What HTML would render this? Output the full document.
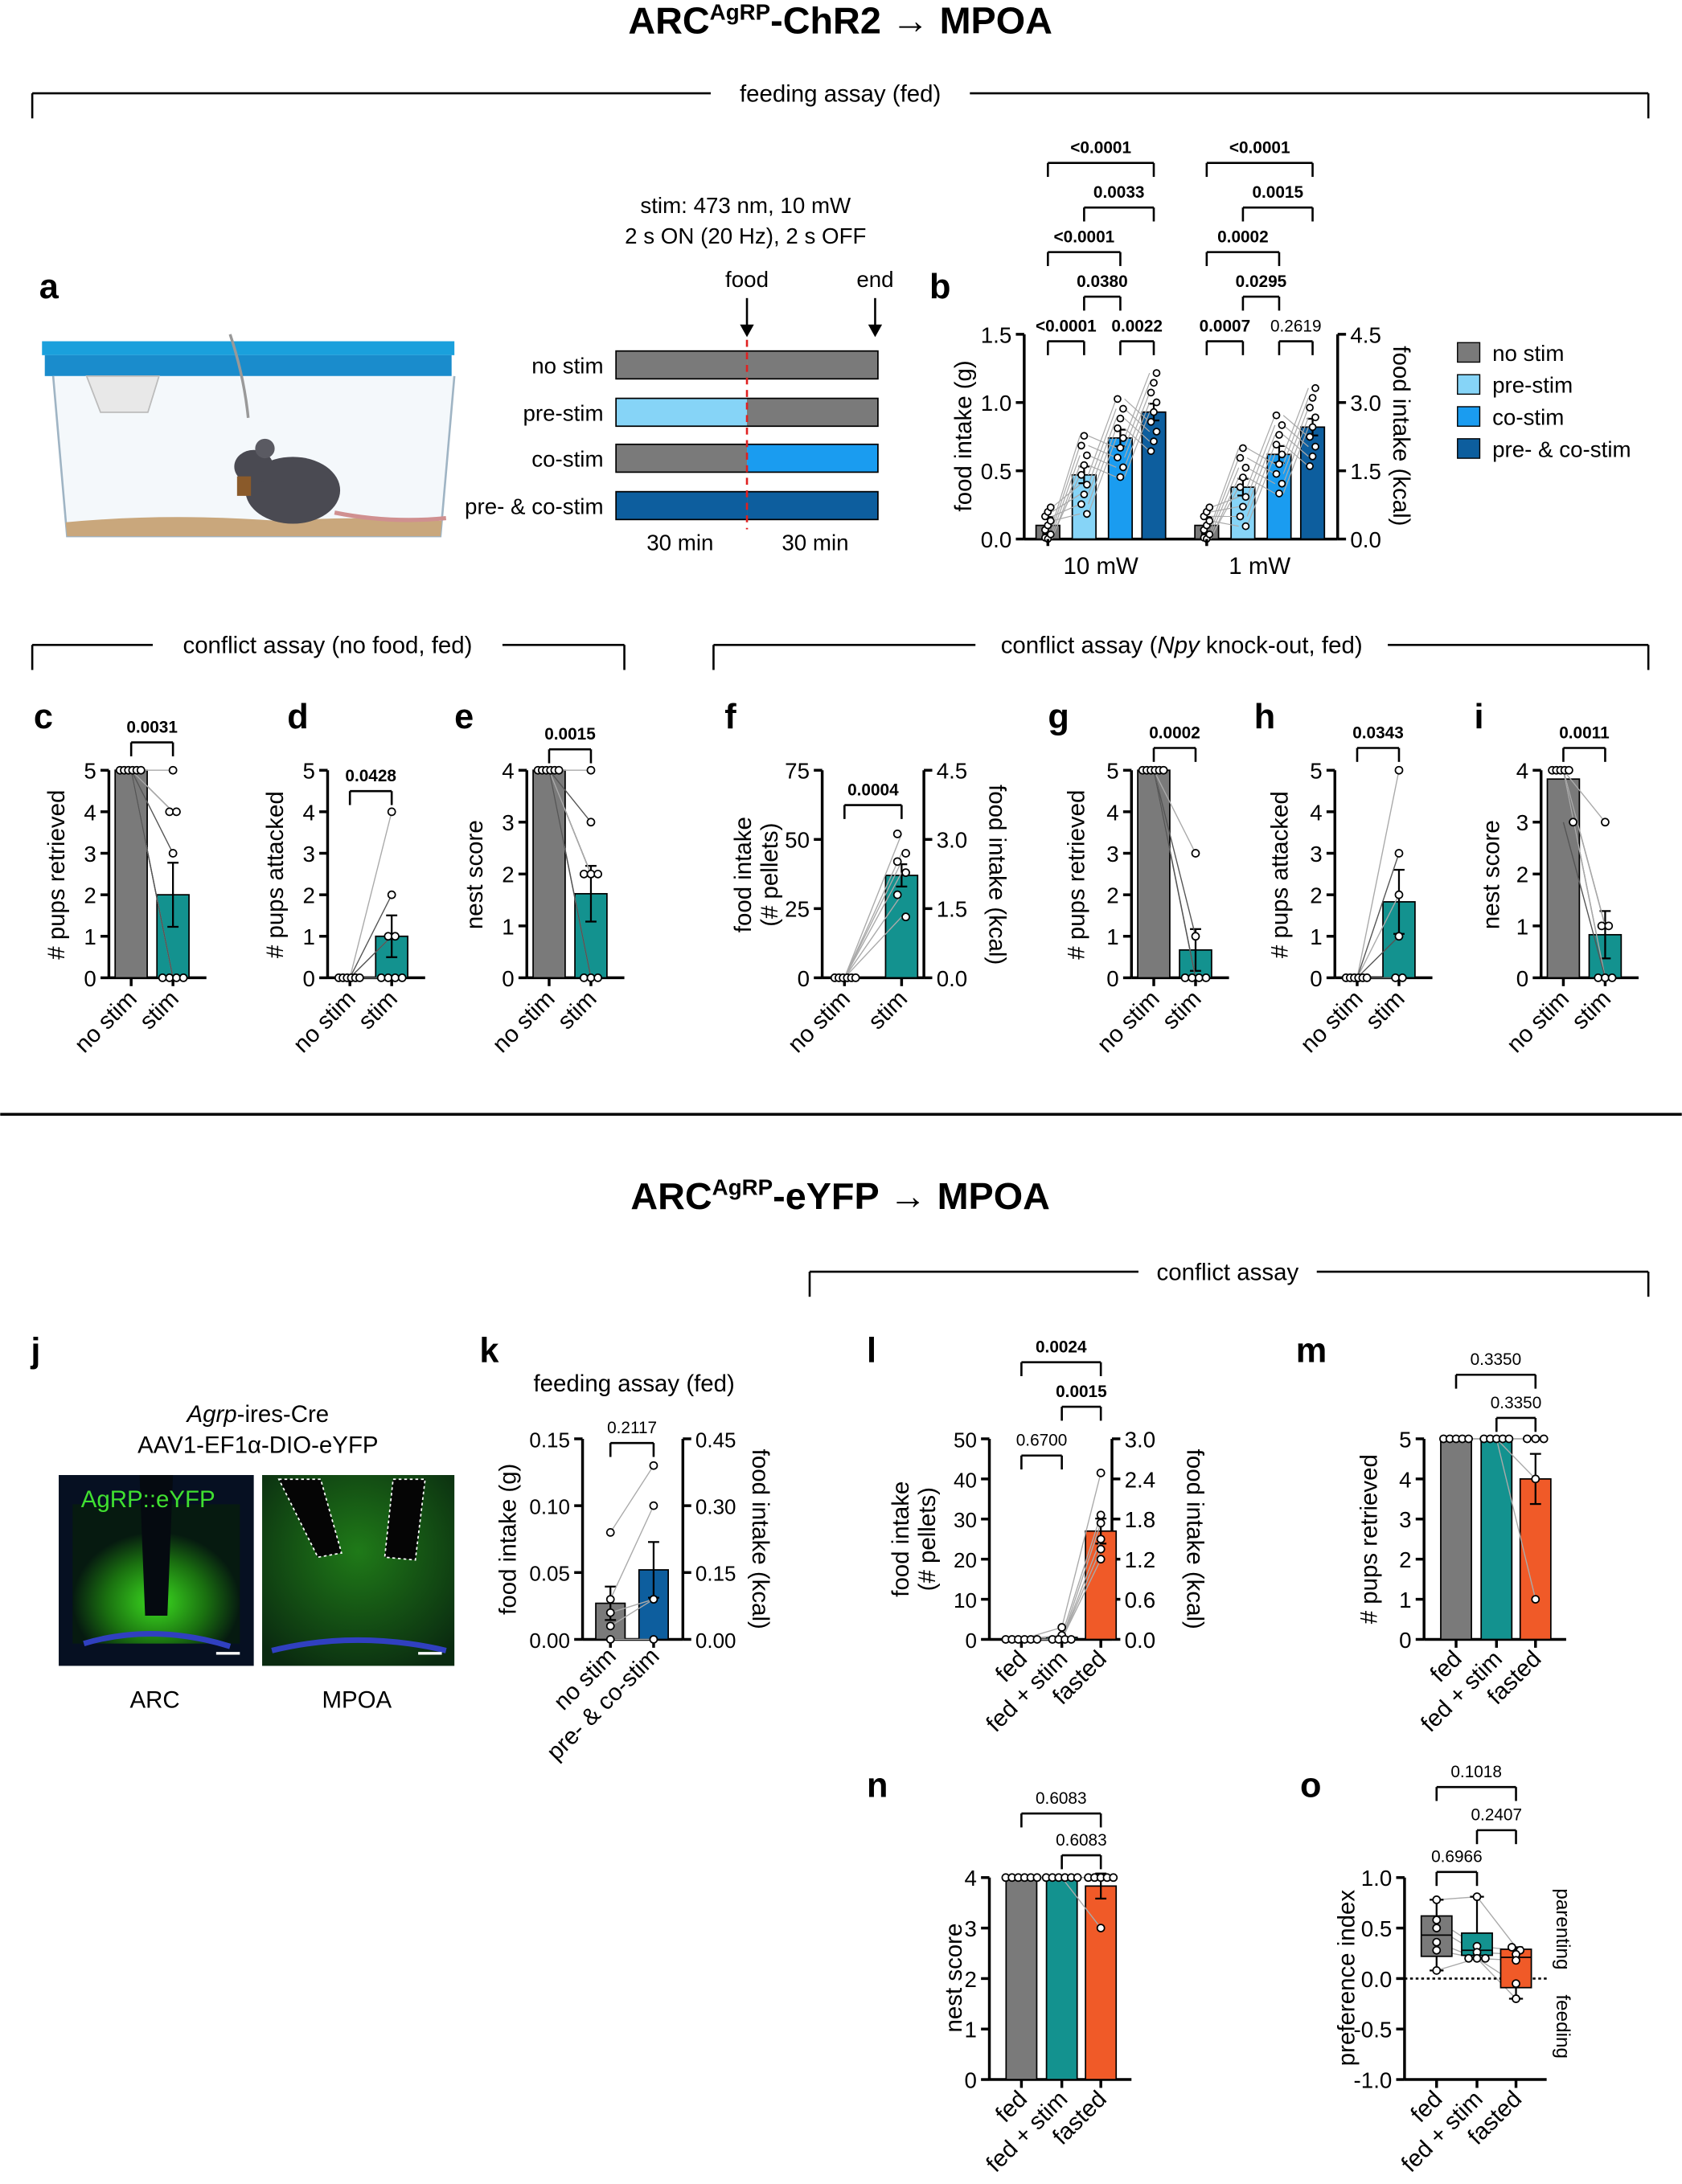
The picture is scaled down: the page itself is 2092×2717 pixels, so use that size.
<!DOCTYPE html>
<html><head><meta charset="utf-8">
<style>
html,body{margin:0;padding:0;background:#fff;}
svg{display:block;}
text{font-family:"Liberation Sans",Arial,sans-serif;fill:#000;}
</style></head>
<body>
<svg id="s" xmlns="http://www.w3.org/2000/svg" width="2092" height="2717" viewBox="0 0 1207 1568"></svg>
<script>
var S=document.getElementById('s');var out=[];
function T(x,y,s,sz,anc,ext){out.push('<text x="'+x+'" y="'+y+'" font-size="'+(sz||14)+'" text-anchor="'+(anc||'middle')+'" '+(ext||'')+'>'+s+'</text>');}
function L(x1,y1,x2,y2,w,c,ext){out.push('<line x1="'+x1+'" y1="'+y1+'" x2="'+x2+'" y2="'+y2+'" stroke="'+(c||'#000')+'" stroke-width="'+(w||1.5)+'" '+(ext||'')+'/>');}
function R(x,y,w,h,f,ext){out.push('<rect x="'+x+'" y="'+y+'" width="'+w+'" height="'+h+'" fill="'+f+'" '+(ext||'')+'/>');}
function C(x,y,r){out.push('<circle cx="'+x+'" cy="'+y+'" r="'+(r||2.6)+'" fill="#fff" stroke="#000" stroke-width="1"/>');}
function RT(x,y,s,sz,ang,anc,ext){out.push('<text transform="translate('+x+','+y+') rotate('+ang+')" font-size="'+sz+'" text-anchor="'+(anc||'middle')+'" '+(ext||'')+'>'+s+'</text>');}
function BR(x1,x2,y,lab,bold,sz){L(x1,y+10,x1,y);L(x1,y,x2,y);L(x2,y,x2,y+10);T((x1+x2)/2,y-7,lab,sz||12,'middle',bold?'font-weight="bold"':'');}
function SEC(x1,x2,y,lab,tx,tw){L(x1,y,tx-tw/2-8,y,1.5);L(tx+tw/2+8,y,x2,y,1.5);L(x1,y,x1,y+18,1.5);L(x2,y,x2,y+18,1.5);out.push('<text x="'+tx+'" y="'+(y+6)+'" font-size="17" text-anchor="middle">'+lab+'</text>');}
function AX(x,yt,yb,labs,side,sz){L(x,yt,x,yb,2);var n=labs.length-1;for(var i=0;i<=n;i++){var y=yb-(yb-yt)*i/n;if(side=='r'){L(x,y,x+6,y,2);T(x+9,y+6,labs[i],sz||16,'start');}else{L(x-6,y,x,y,2);T(x-9,y+6,labs[i],sz||16,'end');}}}
function BAR(cx,w,yb,yv,c){R(cx-w/2,yv,w,yb-yv,c,'stroke="#000" stroke-width="1"');}
function ERR(cx,y1,y2){L(cx,y1,cx,y2,1.3);L(cx-4,y1,cx+4,y1,1.3);L(cx-4,y2,cx+4,y2,1.3);}
function XL(x,y,s,sz){RT(x,y,s,sz||17,-45,'end');}

out.push('<text x="603" y="24" font-size="27" font-weight="bold" text-anchor="middle">ARC<tspan font-size="16" dy="-10">AgRP</tspan><tspan dy="10">-ChR2 → MPOA</tspan></text>');
SEC(23,1183,67,'feeding assay (fed)',603,170);

T(28,214,'a',25,'start','font-weight="bold"');
R(30,245,296,10,'#1aa0dc');R(32,255,292,15,'#1a8ccc');
out.push('<path d="M38 270 L48 385 L316 385 L326 270" fill="#f4f8fb" stroke="#9fb4c4" stroke-width="1.5"/>');
out.push('<path d="M62 270 L72 296 L106 296 L114 270Z" fill="#e8e8e8" stroke="#bbb"/>');
out.push('<path d="M47 375 Q120 368 200 374 Q260 370 317 374 L316 385 L48 385Z" fill="#c9a77c"/>');
out.push('<path d="M165 240 Q175 270 178 300" fill="none" stroke="#999" stroke-width="2"/>');
out.push('<ellipse cx="210" cy="352" rx="34" ry="24" fill="#4a4a52"/><ellipse cx="182" cy="335" rx="14" ry="12" fill="#4a4a52"/><circle cx="190" cy="322" r="7" fill="#5a5a62"/><rect x="170" y="342" width="10" height="14" fill="#8a5a2a"/>');
out.push('<path d="M240 368 Q280 376 320 372" fill="none" stroke="#d09090" stroke-width="3"/>');
T(535,153,'stim: 473 nm, 10 mW',16);T(535,175,'2 s ON (20 Hz), 2 s OFF',16);
T(536,206,'food',16);T(628,206,'end',16);
L(536,214,536,236,1.5);out.push('<path d="M531 233 L536 242 L541 233Z"/>');
L(628,214,628,236,1.5);out.push('<path d="M623 233 L628 242 L633 233Z"/>');
var rows=[['no stim',262,'#7a7a7a','#7a7a7a'],['pre-stim',296,'#86d4f7','#7a7a7a'],['co-stim',329,'#7a7a7a','#1a9cf0'],['pre- &amp; co-stim',363,'#0d5e9e','#0d5e9e']];
rows.forEach(function(r){T(433,r[1]+6,r[0],16,'end');R(442,r[1]-10,94,20,r[2]);R(536,r[1]-10,94,20,r[3]);R(442,r[1]-10,188,20,'none','stroke="#000" stroke-width="1"');});
L(536,244,536,380,1.5,'#e02020','stroke-dasharray="5,4"');
T(488,395,'30 min',16);T(585,395,'30 min',16);

T(667,214,'b',25,'start','font-weight="bold"');
AX(735,240,387,['0.0','0.5','1.0','1.5'],'l');AX(960,240,387,['0.0','1.5','3.0','4.5'],'r');
L(735,387,960,387,2);
RT(697,313,'food intake (g)',17,-90);RT(1000,313,'food intake (kcal)',17,90);
var bc=['#7a7a7a','#86d4f7','#1a9cf0','#0d5e9e'];
var bx=[[752,778,804,828],[866,892,918,942]];var bv=[[0.10,0.47,0.74,0.93],[0.10,0.38,0.62,0.82]];
for(var g=0;g<2;g++){for(var i=0;i<4;i++){var cx=bx[g][i],yv=387-bv[g][i]*98;BAR(cx,17,387,yv,bc[i]);ERR(cx,yv-6,yv+6);}
 for(var k=0;k<9;k++){var vv=[];for(var i=0;i<4;i++){var v=bv[g][i]+(((k*37+i*13)%9)-4)*0.055*(i?1.3:0.6);if(v<0)v=0.01;vv.push(v);}
  for(var i=0;i<3;i++)L(bx[g][i]+3,387-vv[i]*98,bx[g][i+1]-3,387-vv[i+1]*98,0.7,'#aaa');
  for(var i=0;i<4;i++)C(bx[g][i]+((k%3)-1)*2,387-vv[i]*98,2.3);}
 L(bx[g][0],387,bx[g][0],392,2);}
T(790,412,'10 mW',17);T(904,412,'1 mW',17);
BR(752,778,245,'&lt;0.0001',1);BR(804,828,245,'0.0022',1);BR(866,892,245,'0.0007',1);BR(918,942,245,'0.2619',0);
BR(778,804,213,'0.0380',1);BR(892,918,213,'0.0295',1);
BR(752,804,181,'&lt;0.0001',1);BR(866,918,181,'0.0002',1);
BR(778,828,149,'0.0033',1);BR(892,942,149,'0.0015',1);
BR(752,828,117,'&lt;0.0001',1);BR(866,942,117,'&lt;0.0001',1);
var lg=['no stim','pre-stim','co-stim','pre- &amp; co-stim'];
for(var i=0;i<4;i++){R(1046,246+i*23,16,14,bc[i],'stroke="#000" stroke-width="0.8"');T(1071,259+i*23,lg[i],16,'start');}

SEC(23,448,463,'conflict assay (no food, fed)',235,235);
L(512,463,700,463,1.5);L(996,463,1183,463,1.5);L(512,463,512,481,1.5);L(1183,463,1183,481,1.5);
out.push('<text x="848" y="469" font-size="17" text-anchor="middle">conflict assay (<tspan font-style="italic">Npy</tspan> knock-out, fed)</text>');

var TEAL='#13928f',GRAY='#7a7a7a';
function panel(o){
 var yt=553,yb=702,ax=o.ax;
 T(o.lx,523,o.l,25,'start','font-weight="bold"');
 var labs=[];for(var i=0;i<=o.n;i++)labs.push(String(i));
 AX(ax,yt,yb,labs,'l',16);
 var c1=ax+16,c2=ax+46;L(ax,yb,ax+70,yb,2);L(c1,yb,c1,yb+6,2);L(c2,yb,c2,yb+6,2);
 var y1=yb-(yb-yt)*o.v1/o.max,y2=yb-(yb-yt)*o.v2/o.max;
 BAR(c1,23,yb,y1,GRAY);BAR(c2,23,yb,y2,TEAL);
 if(o.e)ERR(c2,y2-o.e,y2+o.e);
 o.p2.forEach(function(v,i){var yy1=yb-(yb-yt)*o.p1[i%o.p1.length]/o.max,yy2=yb-(yb-yt)*v/o.max;L(c1,yy1,c2,yy2,0.8,i%2?'#555':'#aaa');});
 o.p1.forEach(function(v,i){C(c1-8+i*3,yb-(yb-yt)*v/o.max);});
 o.p2.forEach(function(v,i){var same=o.p2.filter(function(w){return w==v;}).length;var idx=o.p2.slice(0,i).filter(function(w){return w==v;}).length;C(c2+(idx-(same-1)/2)*5,yb-(yb-yt)*v/o.max);});
 BR(c1,c2,o.by,o.pv,1);
 RT(o.yl,628,o.ylab,17,-90);
 XL(c1+5,718,'no stim');XL(c2+5,718,'stim');
}
panel({l:'c',lx:24,ax:78,n:5,max:5,v1:5,v2:2,e:23,p1:[5,5,5,5,5,5],p2:[5,4,4,3,0,0,0,0],by:533,pv:'0.0031',yl:46,ylab:'# pups retrieved'});
panel({l:'d',lx:206,ax:235,n:5,max:5,v1:0,v2:1,e:15,p1:[0,0,0,0,0,0],p2:[4,2,1,1,0,0,0,0],by:568,pv:'0.0428',yl:203,ylab:'# pups attacked'});
panel({l:'e',lx:326,ax:378,n:4,max:4,v1:4,v2:1.62,e:20,p1:[4,4,4,4,4,4],p2:[4,3,2,2,2,0,0,0],by:538,pv:'0.0015',yl:346,ylab:'nest score'});
(function(){var yt=553,yb=702,ax=590;T(520,523,'f',25,'start','font-weight="bold"');
 AX(ax,yt,yb,['0','25','50','75'],'l',16);AX(ax+73,yt,yb,['0.0','1.5','3.0','4.5'],'r',16);
 L(ax,yb,ax+73,yb,2);var c1=606,c2=647;L(c1,yb,c1,yb+6,2);L(c2,yb,c2,yb+6,2);
 var y2=yb-149*37/75;BAR(c2,23,yb,y2,TEAL);ERR(c2,y2-8,y2+8);
 [52,45,42,38,30,22].forEach(function(v,i){L(c1,yb,c2,yb-149*v/75,0.8,'#aaa');});
 for(var i=0;i<6;i++)C(c1-7+i*3,yb);
 [52,45,42,38,30,22].forEach(function(v,i){C(c2+(i%2?3:-3),yb-149*v/75);});
 BR(c1,c2,578,'0.0004',1);
 RT(539,628,'food intake',17,-90);RT(558,628,'(# pellets)',17,-90);RT(710,628,'food intake (kcal)',17,90);
 XL(c1+5,718,'no stim');XL(c2+5,718,'stim');})();
panel({l:'g',lx:752,ax:812,n:5,max:5,v1:5,v2:0.67,e:15,p1:[5,5,5,5,5,5],p2:[3,1,0,0,0,0],by:537,pv:'0.0002',yl:778,ylab:'# pups retrieved'});
panel({l:'h',lx:900,ax:958,n:5,max:5,v1:0,v2:1.83,e:23,p1:[0,0,0,0,0,0],p2:[5,3,2,1,0,0],by:537,pv:'0.0343',yl:924,ylab:'# pups attacked'});
panel({l:'i',lx:1058,ax:1106,n:4,max:4,v1:3.83,v2:0.83,e:17,p1:[4,4,4,4,4,3],p2:[3,1,1,0,0,0],by:537,pv:'0.0011',yl:1076,ylab:'nest score'});

L(0,800,1207,800,2);

out.push('<text x="603" y="868" font-size="27" font-weight="bold" text-anchor="middle">ARC<tspan font-size="16" dy="-10">AgRP</tspan><tspan dy="10">-eYFP → MPOA</tspan></text>');
SEC(581,1183,913,'conflict assay',881,112);

T(22,978,'j',25,'start','font-weight="bold"');
out.push('<text x="185" y="1021" font-size="17" text-anchor="middle"><tspan font-style="italic">Agrp</tspan>-ires-Cre</text>');
T(185,1043,'AAV1-EF1α-DIO-eYFP',17);
out.push('<defs><radialGradient id="g1" cx="0.5" cy="0.7" r="0.5"><stop offset="0" stop-color="#3cdc20"/><stop offset="0.6" stop-color="#1a7010"/><stop offset="1" stop-color="#061a10"/></radialGradient><radialGradient id="g2" cx="0.5" cy="0.4" r="0.7"><stop offset="0" stop-color="#1f7a18"/><stop offset="1" stop-color="#0a2a10"/></radialGradient></defs>');
R(42,1059,140,137,'#061022');R(52,1080,120,100,'url(#g1)');
out.push('<path d="M100 1059 L104 1160 L120 1160 L124 1059Z" fill="#050a10"/>');
out.push('<path d="M60 1180 Q110 1165 165 1182" stroke="#3040c0" stroke-width="4" fill="none"/>');
R(188,1059,138,137,'url(#g2)');
out.push('<path d="M200 1062 L230 1062 L245 1115 L228 1118Z" fill="#050505" stroke="#fff" stroke-dasharray="2,2"/><path d="M282 1062 L305 1062 L298 1120 L276 1118Z" fill="#050505" stroke="#fff" stroke-dasharray="2,2"/>');
out.push('<path d="M195 1185 Q256 1170 320 1185" stroke="#3040c0" stroke-width="4" fill="none"/>');
T(58,1082,'AgRP::eYFP',17,'start','style="fill:#40e030"');
L(155,1187,172,1187,2,'#fff');L(300,1187,317,1187,2,'#fff');
T(111,1226,'ARC',17);T(256,1226,'MPOA',17);

T(344,978,'k',25,'start','font-weight="bold"');T(455,999,'feeding assay (fed)',17);
AX(418,1033,1177,['0.00','0.05','0.10','0.15'],'l',15);AX(490,1033,1177,['0.00','0.15','0.30','0.45'],'r',15);
L(418,1177,490,1177,2);
(function(){var c1=438,c2=469,yb=1177,s=144/0.15;L(c1,yb,c1,yb+6,2);L(c2,yb,c2,yb+6,2);
 var y1=yb-0.027*s,y2=yb-0.052*s;BAR(c1,21,yb,y1,GRAY);BAR(c2,21,yb,y2,'#0d5e9e');ERR(c1,y1-12,y1+12);ERR(c2,y2-20,y2+20);
 var a=[0.08,0.03,0.02,0.01,0.0],b=[0.13,0.1,0.03,0.03,0.0];a.forEach(function(v,i){L(c1,yb-v*s,c2,yb-b[i]*s,0.8,'#aaa');C(c1,yb-v*s);C(c2,yb-b[i]*s);});
 BR(c1,c2,1036,'0.2117',0);XL(c1+5,1190,'no stim');XL(c2+5,1190,'pre- &amp; co-stim');
 RT(370,1105,'food intake (g)',17,-90);RT(540,1105,'food intake (kcal)',17,90);})();

var OR='#f05a28';
function tri(o){
 var yt=o.yt,yb=o.yb,ax=o.ax;T(o.lx,o.ly,o.l,25,'start','font-weight="bold"');
 AX(ax,yt,yb,o.tl,'l',o.ts||16);if(o.tr)AX(o.rx,yt,yb,o.tr,'r',16);
 var cs=[ax+23,ax+52,ax+80];L(ax,yb,o.rx||ax+102,yb,2);cs.forEach(function(c){L(c,yb,c,yb+6,2);});
 var cols=[GRAY,TEAL,OR];
 if(!o.box){o.v.forEach(function(v,i){var y=yb-(yb-yt)*v;BAR(cs[i],22,yb,y,cols[i]);if(o.e[i])ERR(cs[i],y-o.e[i],y+o.e[i]);});}
 o.pts.forEach(function(p,i){p.forEach(function(v,k){var y=yb-(yb-yt)*v;if(i<2&&o.pts[i+1][k]!==undefined){var y2=yb-(yb-yt)*o.pts[i+1][k];L(cs[i],y,cs[i+1],y2,0.8,'#aaa');}});});
 if(o.box)o.box(cs,cols);
 o.pts.forEach(function(p,i){p.forEach(function(v,k){var same=p.filter(function(w){return Math.abs(w-v)<0.02;}).length;var idx=p.slice(0,k).filter(function(w){return Math.abs(w-v)<0.02;}).length;C(cs[i]+(idx-(same-1)/2)*(same>3?4.5:6),yb-(yb-yt)*v);});});
 o.br.forEach(function(b){BR(cs[b[0]],cs[b[1]],b[2],b[3],b[4]);});
 XL(cs[0]+5,yb+15,'fed');XL(cs[1]+5,yb+15,'fed + stim');XL(cs[2]+5,yb+15,'fasted');
 return cs;}
tri({l:'l',lx:622,ly:978,ax:710,rx:798,yt:1033,yb:1177,ts:15,tl:['0','10','20','30','40','50'],tr:['0.0','0.6','1.2','1.8','2.4','3.0'],v:[0.005,0.01,0.54],e:[0,0,9],
 pts:[[0,0,0,0,0,0],[0.06,0.02,0,0,0,0],[0.83,0.62,0.58,0.5,0.45,0.4]],br:[[0,1,1045,'0.6700',0],[1,2,1010,'0.0015',1],[0,2,978,'0.0024',1]]});
RT(652,1105,'food intake',17,-90);RT(671,1105,'(# pellets)',17,-90);RT(852,1105,'food intake (kcal)',17,90);
tri({l:'m',lx:930,ly:978,ax:1022,rx:1124,yt:1033,yb:1177,tl:['0','1','2','3','4','5'],v:[1,1,0.8],e:[0,0,18],
 pts:[[1,1,1,1,1],[1,1,1,1,1],[1,1,1,0.8,0.2]],br:[[0,2,987,'0.3350',0],[1,2,1018,'0.3350',0]]});
RT(988,1105,'# pups retrieved',17,-90);
tri({l:'n',lx:622,ly:1290,ax:710,rx:812,yt:1348,yb:1493,tl:['0','1','2','3','4'],v:[1,1,0.958],e:[0,0,9],
 pts:[[1,1,1,1,1,1],[1,1,1,1,1,1],[1,1,1,1,1,0.75]],br:[[0,2,1302,'0.6083',0],[1,2,1332,'0.6083',0]]});
RT(690,1420,'nest score',17,-90);
tri({l:'o',lx:933,ly:1290,ax:1008,rx:1110,yt:1348,yb:1493,tl:['-1.0','-0.5','0.0','0.5','1.0'],v:[0,0,0],e:[0,0,0],
 pts:[[0.89,0.79,0.75,0.68,0.64,0.54],[0.905,0.66,0.63,0.6,0.6,0.6],[0.655,0.64,0.62,0.59,0.475,0.4]],
 box:function(cs,cols){var yb=1493,h=145;function Y(v){return yb-h*(v+1)/2;}
  L(1008,Y(0),1110,Y(0),1.5,'#000','stroke-dasharray="2,2"');
  var bx=[[0.08,0.22,0.43,0.62,0.78],[0.2,0.23,0.28,0.45,0.81],[-0.2,-0.09,0.21,0.29,0.31]];
  bx.forEach(function(b,i){var c=cs[i];L(c,Y(b[0]),c,Y(b[4]),1.3);L(c-5,Y(b[0]),c+5,Y(b[0]),1.3);L(c-5,Y(b[4]),c+5,Y(b[4]),1.3);
   R(c-11,Y(b[3]),22,Y(b[1])-Y(b[3]),cols[i],'stroke="#000" stroke-width="1"');L(c-11,Y(b[2]),c+11,Y(b[2]),1);});},
 br:[[0,2,1283,'0.1018',0],[1,2,1314,'0.2407',0],[0,1,1344,'0.6966',0]]});
RT(972,1420,'preference index',17,-90);RT(1117,1385,'parenting',14,90);RT(1117,1455,'feeding',14,90);

S.innerHTML=out.join('');
</script>
</body></html>
